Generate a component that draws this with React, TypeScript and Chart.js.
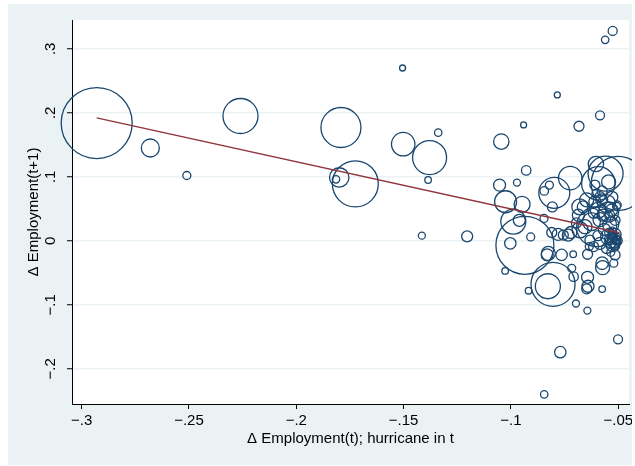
import React, { useEffect, useRef } from "react";
import { Chart, registerables } from "chart.js";

Chart.register(...registerables);

const xTickValues = [-0.3, -0.25, -0.2, -0.15, -0.1, -0.05];
const xTickLabels = ["−.3", "−.25", "−.2", "−.15", "−.1", "−.05"];
const yTickValues = [-0.2, -0.1, 0, 0.1, 0.2, 0.3];
const yTickLabels = ["−.2", "−.1", "0", ".1", ".2", ".3"];
const xTitle = "Δ Employment(t); hurricane in t";
const yTitle = "Δ Employment(t+1)";

// fitted line endpoints
const fitX = [-0.293, -0.0495];
const fitY = [0.192, 0.0125];

const bubbleX = [
  -0.293, -0.268, -0.251, -0.226, -0.0526, -0.0561, -0.1505, -0.0784, -0.0585, -0.0683,
  -0.0941, -0.1792, -0.1502, -0.1339, -0.1379, -0.1386, -0.1725, -0.18, -0.1815, -0.1045,
  -0.0929, -0.0972, -0.1053, -0.1025, -0.0948, -0.0798, -0.0821, -0.0845, -0.0807, -0.0724,
  -0.0604, -0.0559, -0.05, -0.0593, -0.0609, -0.0604, -0.0505, -0.0577, -0.0663, -0.0686,
  -0.054, -0.0846, -0.0989, -0.0961, -0.1415, -0.1204, -0.0697, -0.0644, -0.0501, -0.077,
  -0.0845, -0.0935, -0.1003, -0.0908, -0.1027, -0.0918, -0.0804, -0.0828, -0.0831, -0.0764,
  -0.071, -0.0717, -0.0708, -0.0643, -0.0641, -0.0647, -0.0575, -0.0643, -0.0575, -0.0573,
  -0.0521, -0.0515, -0.0615, -0.081, -0.078, -0.0721, -0.0632, -0.0635, -0.0733, -0.052,
  -0.0525, -0.0515, -0.053, -0.051, -0.0535, -0.0505, -0.054, -0.0518, -0.0528, -0.0508,
  -0.0545, -0.0679, -0.0647, -0.0609, -0.0593, -0.057, -0.0616, -0.0531, -0.0508, -0.0585,
  -0.0601, -0.0756, -0.0678, -0.0826, -0.0555, -0.0545, -0.0585, -0.0535, -0.0565, -0.0625,
  -0.0655, -0.0695, -0.0515, -0.0595, -0.0555, -0.0535, -0.0585, -0.0515, -0.0525, -0.0505,
  -0.0545, -0.053, -0.0575, -0.0545,
];

const bubbleY = [
  0.184, 0.145, 0.102, 0.195, 0.328, 0.314, 0.27, 0.228, 0.196, 0.179,
  0.181, 0.177, 0.151, 0.169, 0.13, 0.095, 0.089, 0.099, 0.096, 0.155,
  0.11, 0.091, 0.087, 0.061, 0.057, 0.075, 0.087, 0.078, 0.053, 0.098,
  0.12, 0.105, 0.0897, 0.0897, 0.087, 0.074, 0.056, 0.064, 0.053, 0.04,
  0.04, 0.035, 0.03, 0.032, 0.008, 0.007, -0.098, -0.109, -0.154, -0.174,
  -0.24, -0.007, -0.004, 0.006, -0.047, -0.078, -0.068, -0.071, -0.022, -0.022,
  -0.021, -0.043, -0.056, -0.057, -0.071, -0.075, -0.0755, -0.021, -0.035, -0.042,
  -0.035, -0.022, -0.009, 0.013, 0.01, 0.013, 0.001, -0.009, 0.009, 0.0,
  0.004, -0.004, 0.008, 0.002, -0.002, 0.006, 0.012, -0.008, 0.015, -0.001,
  0.003, 0.053, 0.064, 0.061, 0.048, 0.04, 0.043, 0.048, 0.054, 0.069,
  0.022, 0.009, 0.017, -0.0197, 0.058, 0.045, 0.033, 0.025, 0.018, 0.03,
  0.022, 0.028, 0.032, 0.008, -0.012, -0.018, -0.004, 0.01, -0.006, 0.0,
  0.006, 0.068, 0.078, 0.092,
];

// bubble weights (marker size)
const bubbleWeight = [
  35.5, 9, 4, 17.5, 4.5, 3.7, 3, 3, 4.5, 5,
  3, 20, 11.7, 3.7, 17, 3.3, 23, 9.7, 3.7, 7.7,
  4.7, 3.5, 6, 11, 8, 15.5, 4, 4.3, 5, 11.7,
  7.7, 17.5, 27, 16.7, 5, 4, 4, 6, 6, 6,
  5, 4, 12.5, 6, 3.5, 5.5, 3.5, 3.5, 4.5, 5.7,
  3.7, 29, 5.7, 4, 3.3, 3.3, 22, 12.5, 6, 5.7,
  3.3, 4, 4.7, 6, 6, 5, 3.3, 5, 6.3, 7,
  4, 5, 5, 5, 6, 6, 5, 4, 6, 7,
  5, 5, 4, 4, 6, 3.5, 5, 4, 4, 3,
  4, 8, 7, 6, 8, 6, 5, 6, 4, 5,
  20, 5, 8, 7, 9, 10, 7, 8, 6, 9,
  7, 5, 5, 5, 5, 4, 6, 6, 7, 5,
  8, 6, 5, 7,
];

const FONT = "'Liberation Sans', Arial, Helvetica, sans-serif";
const BG = "#EAF2F3";
const NAVY = "#1A476F";
const MAROON = "#90353B";

export default function App() {
  const ref = useRef<HTMLCanvasElement>(null);

  useEffect(() => {
    if (!ref.current) return;

    const bgPlugin = {
      id: "stataBg",
      beforeDraw(chart: any) {
        const { ctx, chartArea: a, width, height } = chart;
        ctx.save();
        ctx.fillStyle = BG;
        ctx.fillRect(0, 0, width, height);
        ctx.fillStyle = "#ffffff";
        ctx.fillRect(a.left, a.top, a.right - a.left, a.bottom - a.top);
        ctx.restore();
      },
    };

    const yLabelPlugin = {
      id: "yRotLabels",
      afterDraw(chart: any) {
        const s = chart.scales.y;
        const ctx = chart.ctx;
        ctx.save();
        ctx.font = `15px ${FONT}`;
        ctx.fillStyle = "#000";
        ctx.textAlign = "center";
        ctx.textBaseline = "alphabetic";
        yTickValues.forEach((v, i) => {
          const py = s.getPixelForValue(v);
          ctx.save();
          ctx.translate(s.left + 47, py);
          ctx.rotate(-Math.PI / 2);
          ctx.fillText(yTickLabels[i], 0, 0);
          ctx.restore();
        });
        ctx.restore();
      },
    };

    const chart = new Chart(ref.current, {
      type: "bubble",
      data: {
        datasets: [
          {
            type: "line",
            data: fitX.map((x, i) => ({ x, y: fitY[i] })),
            borderColor: MAROON,
            borderWidth: 1.4,
            pointRadius: 0,
            fill: false,
            order: 0,
          } as any,
          {
            type: "bubble",
            data: bubbleX.map((x, i) => ({ x, y: bubbleY[i], r: bubbleWeight[i] })),
            borderColor: NAVY,
            backgroundColor: "rgba(0,0,0,0)",
            borderWidth: 1.3,
            clip: false,
            order: 1,
          } as any,
        ],
      },
      options: {
        responsive: false,
        animation: false,
        events: [],
        layout: { autoPadding: false, padding: { top: 16, right: 3, left: 0, bottom: 0 } },
        plugins: {
          legend: { display: false },
          tooltip: { enabled: false },
        },
        scales: {
          x: {
            type: "linear",
            position: "bottom",
            min: -0.3045,
            max: -0.045,
            afterBuildTicks: (s: any) => {
              s.ticks = xTickValues.map((v) => ({ value: v }));
            },
            afterFit: (s: any) => {
              s.height = 61;
              s.paddingLeft = 0;
              s.paddingRight = 0;
            },
            ticks: {
              callback: (_v: any, i: number) => xTickLabels[i],
              font: { family: FONT, size: 15 },
              color: "#000",
              padding: 3,
              autoSkip: false,
              maxRotation: 0,
              minRotation: 0,
            },
            grid: {
              drawOnChartArea: false,
              drawTicks: true,
              tickLength: 5,
              tickColor: "#000",
              tickWidth: 1,
            },
            border: { display: true, color: "#000", width: 1 },
            title: {
              display: true,
              text: xTitle,
              font: { family: FONT, size: 15 },
              color: "#000",
              padding: { top: 0, bottom: 17 },
            },
          },
          y: {
            type: "linear",
            position: "left",
            min: -0.255,
            max: 0.345,
            afterBuildTicks: (s: any) => {
              s.ticks = yTickValues.map((v) => ({ value: v }));
            },
            afterFit: (s: any) => {
              s.width = 64;
              s.paddingTop = 0;
              s.paddingBottom = 0;
            },
            ticks: { display: false },
            grid: {
              color: BG,
              lineWidth: 1.5,
              drawTicks: true,
              tickLength: 5,
              tickColor: "#000",
              tickWidth: 1,
            },
            border: { display: true, color: "#000", width: 1 },
            title: {
              display: true,
              text: yTitle,
              font: { family: FONT, size: 15 },
              color: "#000",
              padding: { top: 17, bottom: 0 },
            },
          },
        },
      } as any,
      plugins: [bgPlugin, yLabelPlugin],
    });

    return () => chart.destroy();
  }, []);

  return (
    <div style={{ position: "fixed", left: 8, top: 4, width: 624, height: 461 }}>
      <canvas
        ref={ref}
        width={624}
        height={461}
        style={{ width: 624, height: 461, display: "block" }}
      />
    </div>
  );
}
